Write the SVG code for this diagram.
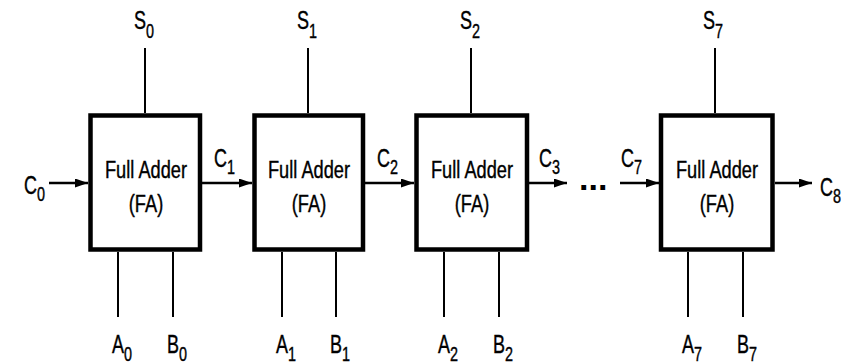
<svg xmlns="http://www.w3.org/2000/svg" width="856" height="364" viewBox="0 0 856 364">
<style>
.box{fill:#fff;stroke:#000;stroke-width:4.5}
.w{stroke:#000;stroke-width:2;fill:none}
.c{stroke:#000;stroke-width:2.6;fill:none;marker-end:url(#ah)}
text{font-family:"Liberation Sans",Arial,sans-serif;fill:#000;stroke:#000;stroke-width:0.4}
.lb{font-size:25px}
.sb{font-size:20px}
.fa{font-size:24px;text-anchor:middle}
.dots{font-size:34px;font-weight:bold;stroke-width:0}
</style>
<defs>
<marker id="ah" markerUnits="userSpaceOnUse" markerWidth="14" markerHeight="10" refX="13" refY="4.5" orient="auto">
<path d="M0,0 L13,4.5 L0,9 z" fill="#000"/>
</marker>
</defs>
<rect width="856" height="364" fill="#fff"/>

<g id="connectors">
<line class="c" x1="49" y1="183" x2="88" y2="183"/>
<line class="c" x1="202" y1="183" x2="252" y2="183"/>
<line class="c" x1="365" y1="183" x2="414" y2="183"/>
<line class="c" x1="529" y1="183" x2="567" y2="183"/>
<line class="c" x1="620" y1="183" x2="659" y2="183"/>
<line class="c" x1="775" y1="183" x2="812" y2="183"/>
<line class="w" x1="145" y1="48" x2="145" y2="113"/>
<line class="w" x1="118" y1="252" x2="118" y2="317"/>
<line class="w" x1="173" y1="252" x2="173" y2="317"/>
<line class="w" x1="308" y1="48" x2="308" y2="113"/>
<line class="w" x1="282" y1="252" x2="282" y2="317"/>
<line class="w" x1="336" y1="252" x2="336" y2="317"/>
<line class="w" x1="471" y1="48" x2="471" y2="113"/>
<line class="w" x1="444" y1="252" x2="444" y2="317"/>
<line class="w" x1="499" y1="252" x2="499" y2="317"/>
<line class="w" x1="715" y1="48" x2="715" y2="113"/>
<line class="w" x1="688" y1="252" x2="688" y2="317"/>
<line class="w" x1="743" y1="252" x2="743" y2="317"/>
</g>

<g id="fa0">
<rect class="box" x="90.5" y="115.5" width="109.5" height="134"/>
<text class="fa" transform="translate(146,178) scale(0.76,1)">Full Adder</text>
<text class="fa" transform="translate(146,212) scale(0.76,1)">(FA)</text>
</g>
<g id="fa1">
<rect class="box" x="254.5" y="115.5" width="108.5" height="134"/>
<text class="fa" transform="translate(309,178) scale(0.76,1)">Full Adder</text>
<text class="fa" transform="translate(309,212) scale(0.76,1)">(FA)</text>
</g>
<g id="fa2">
<rect class="box" x="416.5" y="115.5" width="110.5" height="134"/>
<text class="fa" transform="translate(472,178) scale(0.76,1)">Full Adder</text>
<text class="fa" transform="translate(472,212) scale(0.76,1)">(FA)</text>
</g>
<g id="fa7">
<rect class="box" x="661" y="115.5" width="111.5" height="134"/>
<text class="fa" transform="translate(717,178) scale(0.76,1)">Full Adder</text>
<text class="fa" transform="translate(717,212) scale(0.76,1)">(FA)</text>
</g>

<g id="labels">
<text transform="translate(134,29) scale(0.72,1)"><tspan class="lb">S</tspan><tspan class="sb" dy="9">0</tspan></text>
<text transform="translate(297,29) scale(0.72,1)"><tspan class="lb">S</tspan><tspan class="sb" dy="9">1</tspan></text>
<text transform="translate(460,29) scale(0.72,1)"><tspan class="lb">S</tspan><tspan class="sb" dy="9">2</tspan></text>
<text transform="translate(703,29) scale(0.72,1)"><tspan class="lb">S</tspan><tspan class="sb" dy="9">7</tspan></text>

<text transform="translate(112,353) scale(0.72,1)"><tspan class="lb">A</tspan><tspan class="sb" dy="8">0</tspan></text>
<text transform="translate(167,353) scale(0.72,1)"><tspan class="lb">B</tspan><tspan class="sb" dy="8">0</tspan></text>
<text transform="translate(276,353) scale(0.72,1)"><tspan class="lb">A</tspan><tspan class="sb" dy="8">1</tspan></text>
<text transform="translate(330,353) scale(0.72,1)"><tspan class="lb">B</tspan><tspan class="sb" dy="8">1</tspan></text>
<text transform="translate(438,353) scale(0.72,1)"><tspan class="lb">A</tspan><tspan class="sb" dy="8">2</tspan></text>
<text transform="translate(493,353) scale(0.72,1)"><tspan class="lb">B</tspan><tspan class="sb" dy="8">2</tspan></text>
<text transform="translate(682,353) scale(0.72,1)"><tspan class="lb">A</tspan><tspan class="sb" dy="8">7</tspan></text>
<text transform="translate(737,353) scale(0.72,1)"><tspan class="lb">B</tspan><tspan class="sb" dy="8">7</tspan></text>

<text transform="translate(24,194) scale(0.72,1)"><tspan class="lb">C</tspan><tspan class="sb" dy="7">0</tspan></text>
<text transform="translate(214,167) scale(0.72,1)"><tspan class="lb">C</tspan><tspan class="sb" dy="7">1</tspan></text>
<text transform="translate(377,167) scale(0.72,1)"><tspan class="lb">C</tspan><tspan class="sb" dy="7">2</tspan></text>
<text transform="translate(539,167) scale(0.72,1)"><tspan class="lb">C</tspan><tspan class="sb" dy="7">3</tspan></text>
<text transform="translate(621,167) scale(0.72,1)"><tspan class="lb">C</tspan><tspan class="sb" dy="7">7</tspan></text>
<text transform="translate(820,196) scale(0.72,1)"><tspan class="lb">C</tspan><tspan class="sb" dy="7">8</tspan></text>

<text class="dots" x="579" y="190">...</text>
</g>
</svg>
